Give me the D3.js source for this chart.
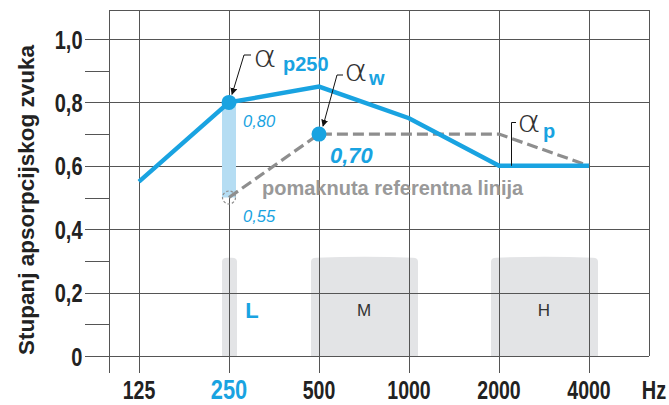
<!DOCTYPE html>
<html><head><meta charset="utf-8">
<script src="https://cdn.jsdelivr.net/npm/d3@7"></script>
<style>
html,body{margin:0;padding:0;background:#fff;}
svg{display:block;font-family:"Liberation Sans",Arial,sans-serif;}
</style></head>
<body>
<svg id="chart" width="669" height="405"></svg>
<script>
// ---- data ----
const freqs = ["125", "250", "500", "1000", "2000", "4000"];
const measured = [0.55, 0.80, 0.85, 0.75, 0.60, 0.60];
const refFreqs = ["250", "500", "1000", "2000", "4000"];
const shiftedRef = [0.50, 0.70, 0.70, 0.70, 0.60];
const yMajor = [0, 0.2, 0.4, 0.6, 0.8, 1.0];
const yMajorLabels = ["0", "0,2", "0,4", "0,6", "0,8", "1,0"];
const yMinor = [0.1, 0.3, 0.5, 0.7, 0.9];
const bandFrom = ["250", "500", "2000"];
const bandTo = ["250", "1000", "4000"];
const bandLabels = ["L", "M", "H"];
const bandTop = 0.31;
const alphaP250 = 0.80, alphaW = 0.70, refAt250 = 0.50;
const valueLabels = ["0,80", "0,70", "0,55"];
const yTitle = "Stupanj apsorpcijskog zvuka";
const refLabel = "pomaknuta referentna linija";
const unit = "Hz";

// ---- setup ----
const BLUE = "#19a3e1", GRID = "#555", GRAY = "#8e8e8e";
const svg = d3.select("#chart");
const pLeft = 109, pRight = 649, pTop = 10, pBottom = 356;
const x = d3.scalePoint().domain(freqs).range([139, 589]);
const y = d3.scaleLinear().domain([0, 1]).range([pBottom, 39]);

const defs = svg.append("defs");
defs.append("marker").attr("id", "arr").attr("viewBox", "0 0 10 10")
  .attr("refX", 9).attr("refY", 5).attr("markerWidth", 7).attr("markerHeight", 7)
  .attr("orient", "auto").attr("markerUnits", "userSpaceOnUse")
  .append("path").attr("d", "M0,0 L10,5 L0,10 Z").attr("fill", "#111");

// bands
const bandG = svg.append("g");
bandFrom.forEach((f, i) => {
  const x0 = x(f) - (i === 0 ? 7 : 8), x1 = x(bandTo[i]) + (i === 0 ? 8 : 9);
  const yt = y(bandTop), yb = pBottom;
  const p = d3.path();
  p.moveTo(x0, yb); p.lineTo(x0, yt + 4);
  p.quadraticCurveTo(x0, yt, x0 + 5, yt);
  if (i > 0) { p.quadraticCurveTo((x0 + x1) / 2, yt - 2, x1 - 5, yt); }
  else p.lineTo(x1 - 5, yt);
  p.quadraticCurveTo(x1, yt, x1, yt + 4);
  p.lineTo(x1, yb); p.closePath();
  bandG.append("path").attr("d", p.toString()).attr("fill", "#e3e4e6");
});

// grid
const gridG = svg.append("g").attr("stroke", GRID).attr("stroke-width", 1).attr("shape-rendering", "crispEdges");
gridG.selectAll("line.h").data(yMajor).join("line")
  .attr("x1", pLeft).attr("x2", pRight).attr("y1", d => Math.round(y(d)) + 0.5).attr("y2", d => Math.round(y(d)) + 0.5);
gridG.selectAll("line.v").data(freqs).join("line")
  .attr("x1", d => x(d) + 0.5).attr("x2", d => x(d) + 0.5).attr("y1", pTop).attr("y2", 373);
gridG.append("line").attr("x1", pLeft).attr("x2", pRight).attr("y1", pTop + 0.5).attr("y2", pTop + 0.5);
gridG.append("line").attr("x1", pRight + 0.5).attr("x2", pRight + 0.5).attr("y1", pTop).attr("y2", pBottom);

// y axis
const yAxis = d3.axisLeft(y).tickValues(yMajor.concat(yMinor)).tickSize(25)
  .tickFormat(d => { const i = yMajor.indexOf(d); return i >= 0 ? yMajorLabels[i] : ""; });
const ya = svg.append("g").attr("transform", `translate(${pLeft + 0.5},0)`).call(yAxis);
ya.select(".domain").remove();
ya.selectAll(".tick line").attr("stroke", GRID).attr("shape-rendering", "crispEdges");
ya.selectAll(".tick text").attr("font-size", 25).attr("font-weight", "bold").attr("fill", "#222")
  .attr("x", 0).attr("dy", "0.36em").attr("text-anchor", "end")
  .attr("transform", "translate(-27,0) scale(0.8,1)");
svg.append("line").attr("x1", pLeft + 0.5).attr("x2", pLeft + 0.5).attr("y1", pTop).attr("y2", 373)
  .attr("stroke", GRID).attr("shape-rendering", "crispEdges");

// x labels
const xLab = svg.append("g");
freqs.forEach(f => {
  const is250 = f === "250";
  xLab.append("text").attr("transform", `translate(${x(f)},399) scale(0.78,1)`)
    .attr("text-anchor", "middle").attr("font-weight", "bold")
    .attr("font-size", is250 ? 28 : 25).attr("fill", is250 ? BLUE : "#222").text(f);
});
svg.append("text").attr("transform", "translate(654,399) scale(0.8,1)").attr("text-anchor", "middle")
  .attr("font-weight", "bold").attr("font-size", 25).attr("fill", "#222").text(unit);

// y title
svg.append("text").attr("transform", `translate(34,${(45 + 355) / 2}) rotate(-90)`)
  .attr("text-anchor", "middle").attr("font-weight", "bold").attr("font-size", 22.5).attr("fill", "#222").text(yTitle);

// band labels
bandFrom.forEach((f, i) => {
  const cx = i === 0 ? x(f) + 23 : (x(f) + x(bandTo[i])) / 2;
  svg.append("text").attr("x", cx).attr("y", i === 0 ? 318 : 316).attr("text-anchor", "middle")
    .attr("font-size", i === 0 ? 22 : 17).attr("font-weight", i === 0 ? "bold" : "normal")
    .attr("fill", i === 0 ? BLUE : "#333").text(bandLabels[i]);
});

// light blue bar at 250
svg.append("rect").attr("x", x("250") - 7).attr("width", 14)
  .attr("y", y(alphaP250)).attr("height", y(refAt250) - y(alphaP250)).attr("fill", "#b5ddf3");

// shifted reference line
svg.append("path").datum(refFreqs.map((f, i) => [x(f), y(shiftedRef[i])]))
  .attr("d", d3.line()).attr("fill", "none").attr("stroke", GRAY).attr("stroke-width", 3.2)
  .attr("stroke-dasharray", "11,5");

// measured line
svg.append("path").datum(freqs.map((f, i) => [x(f), y(measured[i])]))
  .attr("d", d3.line()).attr("fill", "none").attr("stroke", BLUE).attr("stroke-width", 4.4)
  .attr("stroke-linejoin", "miter");

// points
svg.append("circle").attr("cx", x("250")).attr("cy", y(refAt250)).attr("r", 6.5)
  .attr("fill", "none").attr("stroke", GRAY).attr("stroke-width", 1.2).attr("stroke-dasharray", "2.5,2");
svg.append("circle").attr("cx", x("250")).attr("cy", y(alphaP250)).attr("r", 7.5).attr("fill", BLUE);
svg.append("circle").attr("cx", x("500")).attr("cy", y(alphaW)).attr("r", 7.5).attr("fill", BLUE);

// value labels
svg.append("text").attr("x", x("250") + 14).attr("y", y(alphaP250) + 25).attr("font-size", 16.5)
  .attr("font-style", "italic").attr("fill", BLUE).text(valueLabels[0]);
svg.append("text").attr("x", x("500") + 11).attr("y", y(alphaW) + 29).attr("font-size", 22)
  .attr("font-style", "italic").attr("font-weight", "bold").attr("fill", BLUE).text(valueLabels[1]);
svg.append("text").attr("x", x("250") + 14).attr("y", y(refAt250) + 24).attr("font-size", 16.5)
  .attr("font-style", "italic").attr("fill", BLUE).text(valueLabels[2]);
svg.append("text").attr("x", 262).attr("y", 195).attr("font-size", 20).attr("font-weight", "bold")
  .attr("fill", "#999").text(refLabel);

// alpha annotations
function alphaLabel(ax, ay, sub, sx, sy) {
  svg.append("text").attr("transform", `translate(${ax},${ay}) scale(1.2,1)`)
    .attr("font-family", "'DejaVu Sans',sans-serif").attr("font-weight", 200)
    .attr("font-size", 30).attr("fill", "#333").text("α");
  svg.append("text").attr("x", sx).attr("y", sy).attr("font-size", 20).attr("font-weight", "bold")
    .attr("fill", BLUE).text(sub);
}
alphaLabel(253, 67, "p250", 283, 71);
alphaLabel(344, 81, "w", 369, 85);
alphaLabel(517, 132, "p", 543, 138);

const annG = svg.append("g").attr("fill", "none").attr("stroke", "#111").attr("stroke-width", 1);
annG.append("path").attr("d", `M251,55 L244,55 L${x("250") + 3},${y(alphaP250) - 8}`).attr("marker-end", "url(#arr)");
annG.append("path").attr("d", `M343,75 L337,75 L${x("500") + 4},${y(alphaW) - 8}`).attr("marker-end", "url(#arr)");
annG.append("path").attr("d", `M516,122.5 L511.5,122.5 L511.5,${y(0.6)}`);
</script>
</body></html>
